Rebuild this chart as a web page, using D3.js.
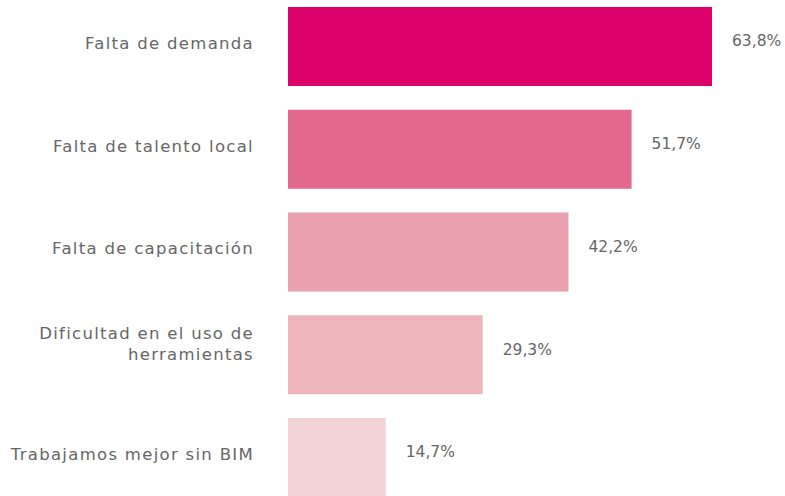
<!DOCTYPE html>
<html>
<head>
  <meta charset="utf-8">
  <script src="https://d3js.org/d3.v7.min.js"></script>
  <style>
    body { margin: 0; background: #fff; }
    text { font-family: "DejaVu Sans", sans-serif; fill: #666; }
  </style>
</head>
<body>
<script>
// data
var categories = ["Falta de demanda", "Falta de talento local", "Falta de capacitación",
                  "Dificultad en el uso de herramientas", "Trabajamos mejor sin BIM"];
var labelLines = [["Falta de demanda"], ["Falta de talento local"], ["Falta de capacitación"],
                  ["Dificultad en el uso de", "herramientas"], ["Trabajamos mejor sin BIM"]];
var values = [63.8, 51.7, 42.2, 29.3, 14.7];
var valueLabels = ["63,8%", "51,7%", "42,2%", "29,3%", "14,7%"];
var colors = ["#de006a", "#e3688e", "#e9a1af", "#eeb6bb", "#f4d3d7"];

var svg_w = 785, svg_h = 496;
var barLeft = 288;

var svg = d3.select("body").append("svg")
  .attr("width", svg_w)
  .attr("height", svg_h);

var y = d3.scaleBand()
  .domain(categories)
  .range([7, 497])
  .paddingInner(0.231)
  .paddingOuter(0);

var x = d3.scaleLinear()
  .domain([0, 63.8])
  .range([0, 424]);

svg.selectAll("rect.bar")
  .data(values)
  .enter()
  .append("rect")
  .attr("class", "bar")
  .attr("x", barLeft)
  .attr("y", function(d, i) { return y(categories[i]); })
  .attr("width", function(d) { return x(d); })
  .attr("height", y.bandwidth())
  .style("fill", function(d, i) { return colors[i]; });

// value labels
svg.selectAll("text.val")
  .data(values)
  .enter()
  .append("text")
  .attr("class", "val")
  .attr("x", function(d) { return barLeft + x(d) + 20; })
  .attr("y", function(d, i) { return y(categories[i]) + 34; })
  .attr("dy", "0.35em")
  .style("font-size", "15.5px")
  .text(function(d, i) { return valueLabels[i]; });

// category labels
var lab = svg.selectAll("text.cat")
  .data(labelLines)
  .enter()
  .append("text")
  .attr("class", "cat")
  .attr("text-anchor", "end")
  .style("font-size", "16.5px")
  .style("letter-spacing", "1.3px")
  .attr("transform", function(d, i) {
    var off = d.length > 1 ? 18 : 36;
    return "translate(254," + (y(categories[i]) + off) + ")";
  });

lab.selectAll("tspan")
  .data(function(d) { return d; })
  .enter()
  .append("tspan")
  .attr("x", 0)
  .attr("y", function(d, i) { return i * 21; })
  .attr("dy", "0.35em")
  .text(function(d) { return d; });
</script>
</body>
</html>
